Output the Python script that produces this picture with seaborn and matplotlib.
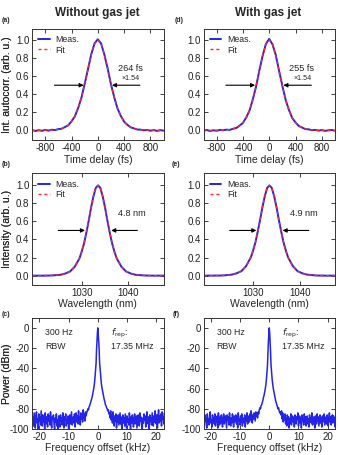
import numpy as np
import matplotlib
matplotlib.use('Agg')
import matplotlib.pyplot as plt
import seaborn as sns
from matplotlib.ticker import FormatStrFormatter, MultipleLocator

# ---- autocorrelation (a, d) ----
delay = np.arange(-1000, 1001, 50)
ac_fit_a = [0.000, 0.000, 0.000, 0.001, 0.001, 0.002, 0.004, 0.007, 0.012, 0.021,
            0.036, 0.060, 0.099, 0.158, 0.244, 0.363, 0.512, 0.680, 0.839, 0.957,
            1.000,
            0.957, 0.839, 0.680, 0.512, 0.363, 0.244, 0.158, 0.099, 0.060, 0.036,
            0.021, 0.012, 0.007, 0.004, 0.002, 0.001, 0.001, 0.000, 0.000, 0.000]
ac_meas_a = [0.004, -0.006, 0.003, -0.004, 0.006, -0.002, 0.008, 0.004, 0.015, 0.019,
             0.038, 0.057, 0.101, 0.155, 0.247, 0.360, 0.515, 0.677, 0.842, 0.962,
             1.008,
             0.960, 0.836, 0.683, 0.509, 0.366, 0.241, 0.160, 0.097, 0.062, 0.034,
             0.023, 0.010, 0.009, 0.002, 0.005, -0.003, 0.004, -0.005, 0.003, -0.002]
ac_fit_d = [0.000, 0.000, 0.000, 0.000, 0.001, 0.002, 0.003, 0.005, 0.010, 0.017,
            0.030, 0.051, 0.086, 0.141, 0.223, 0.340, 0.489, 0.661, 0.829, 0.954,
            1.000,
            0.954, 0.829, 0.661, 0.489, 0.340, 0.223, 0.141, 0.086, 0.051, 0.030,
            0.017, 0.010, 0.005, 0.003, 0.002, 0.001, 0.000, 0.000, 0.000, 0.000]
ac_meas_d = [-0.003, 0.005, -0.006, 0.002, -0.004, 0.006, 0.001, 0.009, 0.006, 0.019,
             0.027, 0.054, 0.083, 0.144, 0.220, 0.343, 0.486, 0.664, 0.826, 0.958,
             1.012,
             0.951, 0.832, 0.658, 0.492, 0.337, 0.226, 0.138, 0.088, 0.049, 0.032,
             0.015, 0.012, 0.003, 0.006, -0.002, 0.004, -0.005, 0.002, 0.005, -0.003]

# ---- optical spectrum (b, e) ----
wl = [1019.5, 1021.5, 1023.5, 1024.5, 1025.5, 1026.5, 1027.5, 1028.5, 1029.5, 1030.0,
      1030.5, 1031.0, 1031.5, 1032.0, 1032.5, 1033.0, 1033.5, 1034.0, 1034.5, 1035.0,
      1035.5, 1036.0, 1036.5, 1037.0, 1037.5, 1038.5, 1039.5, 1040.5, 1041.5, 1042.5,
      1043.5, 1045.5, 1047.5]
spec_fit_b = [0.000, 0.001, 0.003, 0.005, 0.011, 0.023, 0.048, 0.097, 0.191, 0.264,
              0.358, 0.474, 0.608, 0.749, 0.876, 0.967, 1.000, 0.967, 0.876, 0.749,
              0.608, 0.474, 0.358, 0.264, 0.191, 0.097, 0.048, 0.023, 0.011, 0.005,
              0.003, 0.001, 0.000]
spec_meas_b = [0.001, 0.000, 0.002, 0.006, 0.010, 0.024, 0.046, 0.099, 0.189, 0.266,
               0.356, 0.476, 0.606, 0.751, 0.874, 0.969, 0.998, 0.969, 0.874, 0.751,
               0.606, 0.476, 0.356, 0.266, 0.189, 0.099, 0.046, 0.024, 0.010, 0.006,
               0.002, 0.000, 0.001]
spec_fit_e = [0.000, 0.001, 0.003, 0.006, 0.013, 0.026, 0.052, 0.104, 0.202, 0.276,
              0.371, 0.487, 0.620, 0.757, 0.881, 0.968, 1.000, 0.968, 0.881, 0.757,
              0.620, 0.487, 0.371, 0.276, 0.202, 0.104, 0.052, 0.026, 0.013, 0.006,
              0.003, 0.001, 0.000]
spec_meas_e = [0.001, 0.001, 0.002, 0.007, 0.012, 0.027, 0.050, 0.106, 0.200, 0.278,
               0.369, 0.489, 0.618, 0.759, 0.879, 0.970, 0.997, 0.970, 0.879, 0.759,
               0.618, 0.489, 0.369, 0.278, 0.200, 0.106, 0.050, 0.027, 0.012, 0.007,
               0.002, 0.000, 0.001]

# ---- RF spectrum (c, f) ----
floor_left_khz = np.linspace(-23, -4, 96)
floor_right_khz = np.linspace(4, 23, 96)
peak_khz = [-3.8, -3.6, -3.4, -3.2, -3.0, -2.8, -2.6, -2.4, -2.2, -2.0,
            -1.8, -1.6, -1.4, -1.2, -1.0, -0.8, -0.6, -0.45, -0.3, -0.15,
            0.0,
            0.15, 0.3, 0.45, 0.6, 0.8, 1.0, 1.2, 1.4, 1.6, 1.8,
            2.0, 2.2, 2.4, 2.6, 2.8, 3.0, 3.2, 3.4, 3.6, 3.8]
c_left = [-86, -93, -81, -95, -88, -97, -84, -91, -99, -87, -83, -94, -90, -100, -85, -92, -88, -96, -82, -90,
          -97, -86, -93, -89, -100, -84, -95, -88, -91, -98, -85, -92, -87, -96, -83, -94, -99, -88, -90, -86,
          -95, -100, -89, -93, -85, -97, -91, -100, -87, -94, -98, -86, -92, -89, -96, -84, -93, -99, -88, -91,
          -85, -97, -90, -94, -87, -100, -92, -86, -95, -89, -83, -96, -91, -88, -94, -85, -98, -90, -84, -93,
          -87, -95, -82, -91, -88, -96, -84, -90, -86, -93, -81, -89, -85, -92, -83, -87]
c_peak = [-84, -82, -80, -81, -78, -77, -75, -73, -71, -69, -66, -63, -60, -56, -50, -42, -35, -22, -13, -5,
          0,
          -6, -14, -21, -34, -41, -49, -55, -59, -62, -65, -68, -71, -73, -76, -77, -79, -80, -82, -81, -85]
c_right = [-84, -89, -82, -91, -86, -94, -83, -90, -97, -87, -92, -85, -99, -88, -93, -86, -96, -90, -84, -95,
           -88, -100, -91, -86, -94, -89, -97, -85, -92, -99, -87, -93, -90, -96, -84, -91, -100, -88, -94, -86,
           -92, -98, -89, -85, -95, -91, -87, -99, -93, -86, -90, -97, -84, -92, -88, -96, -100, -89, -94, -85,
           -91, -87, -98, -93, -83, -90, -95, -88, -100, -86, -92, -89, -96, -84, -91, -97, -87, -93, -82, -90,
           -95, -86, -99, -88, -81, -94, -87, -92, -85, -97, -83, -90, -88, -95, -84, -91]
f_left = [-88, -94, -84, -91, -97, -86, -92, -89, -99, -85, -93, -90, -96, -87, -83, -94, -91, -98, -86, -92,
          -89, -95, -85, -97, -90, -93, -87, -99, -84, -91, -96, -88, -94, -86, -92, -98, -89, -85, -95, -90,
          -87, -93, -99, -86, -91, -88, -96, -84, -92, -97, -89, -94, -85, -90, -98, -87, -93, -91, -86, -95,
          -88, -99, -84, -92, -90, -96, -87, -93, -85, -97, -89, -91, -94, -86, -98, -88, -92, -84, -95, -90,
          -87, -93, -85, -91, -82, -89, -94, -86, -90, -84, -88, -92, -83, -87, -85, -89]
f_peak = [-83, -85, -81, -79, -80, -77, -76, -74, -72, -69, -67, -64, -61, -57, -52, -45, -37, -24, -14, -6,
          0,
          -5, -13, -23, -36, -44, -51, -56, -60, -63, -66, -69, -72, -74, -76, -78, -80, -79, -82, -84, -83]
f_right = [-86, -82, -90, -84, -93, -87, -91, -85, -95, -89, -97, -86, -92, -88, -99, -90, -94, -85, -96, -91,
           -87, -93, -89, -98, -86, -92, -95, -88, -90, -84, -97, -91, -87, -94, -89, -99, -86, -92, -90, -96,
           -85, -93, -88, -97, -91, -87, -95, -90, -98, -86, -92, -89, -94, -84, -96, -91, -88, -93, -99, -87,
           -90, -95, -85, -92, -88, -97, -91, -86, -94, -89, -98, -87, -93, -90, -85, -96, -92, -88, -95, -86,
           -91, -97, -89, -84, -93, -88, -96, -90, -86, -94, -87, -92, -89, -98, -85, -91]

pulse_fwhm = ['264 fs', '255 fs']
spec_fwhm = ['4.8 nm', '4.9 nm']

BLUE = '#2424e8'
RED = '#ff2a2a'

sns.set_style('ticks')
plt.rcParams['font.family'] = ['Liberation Sans', 'DejaVu Sans']
plt.rcParams['axes.unicode_minus'] = False

fig, axes = plt.subplots(3, 2, figsize=(3.38, 4.55), dpi=100)
fig.subplots_adjust(left=0.095, right=0.991, top=0.936, bottom=0.057,
                    wspace=0.304, hspace=0.297)


def style(ax):
    ax.tick_params(direction='in', top=True, right=True, length=3, width=0.6,
                   labelsize=7, pad=2, colors='#222222')
    for s in ax.spines.values():
        s.set_linewidth(0.7)
        s.set_color('#333333')


def arrows(ax, xl, xr, y):
    kw = dict(arrowstyle='-|>', color='k', lw=0.8, mutation_scale=6, shrinkA=0, shrinkB=0)
    ax.annotate('', xy=(xl[1], y), xytext=(xl[0], y), arrowprops=kw)
    ax.annotate('', xy=(xr[1], y), xytext=(xr[0], y), arrowprops=kw)


def legend(ax):
    ax.legend(loc='upper left', frameon=False, fontsize=6.3, handlelength=1.3,
              handletextpad=0.7, labelspacing=0.15, borderaxespad=0.3, borderpad=0.4)


col_data = [
    (ac_meas_a, ac_fit_a, spec_meas_b, spec_fit_b, c_left, c_peak, c_right),
    (ac_meas_d, ac_fit_d, spec_meas_e, spec_fit_e, f_left, f_peak, f_right),
]

for j, (acm, acf, spm, spf, nl, pk, nr) in enumerate(col_data):
    # autocorrelation
    ax = axes[0, j]
    sns.lineplot(x=delay, y=acm, ax=ax, color=BLUE, lw=1.4, label='Meas.')
    sns.lineplot(x=delay, y=acf, ax=ax, color=RED, lw=1.0, linestyle=(0, (2.2, 2.0)), label='Fit')
    ax.set_xlim(-1000, 1000)
    ax.set_ylim(-0.11, 1.12)
    ax.set_xticks([-800, -400, 0, 400, 800])
    ax.yaxis.set_major_locator(MultipleLocator(0.2))
    ax.yaxis.set_major_formatter(FormatStrFormatter('%.1f'))
    ax.set_xlabel('Time delay (fs)', fontsize=7.5, labelpad=1)
    ax.set_ylabel('Int. autocorr. (arb. u.)', fontsize=7.5)
    arrows(ax, (-660, -215), (640, 215), 0.5)
    ax.text(490, 0.68, pulse_fwhm[j], fontsize=6.6, ha='center', va='center')
    ax.text(500, 0.575, '\u00d71.54', fontsize=5.1, ha='center', va='center')
    legend(ax)

    # optical spectrum
    ax = axes[1, j]
    sns.lineplot(x=wl, y=spm, ax=ax, color=BLUE, lw=1.4, label='Meas.')
    sns.lineplot(x=wl, y=spf, ax=ax, color=RED, lw=1.0, linestyle=(0, (2.2, 2.0)), label='Fit')
    ax.set_xlim(1019.4, 1047.5)
    ax.set_ylim(-0.10, 1.13)
    ax.set_xticks([1030, 1040])
    ax.yaxis.set_major_locator(MultipleLocator(0.2))
    ax.yaxis.set_major_formatter(FormatStrFormatter('%.1f'))
    ax.set_xlabel('Wavelength (nm)', fontsize=7.5, labelpad=1)
    ax.set_ylabel('Intensity (arb. u.)', fontsize=7.5)
    arrows(ax, (1025.0, 1030.7), (1041.9, 1036.3), 0.5)
    ax.text(1040.8, 0.69, spec_fwhm[j], fontsize=6.6, ha='center', va='center')
    legend(ax)

    # RF spectrum
    ax = axes[2, j]
    freq = np.concatenate([floor_left_khz, peak_khz, floor_right_khz])
    power = np.concatenate([nl, pk, nr])
    sns.lineplot(x=freq, y=power, ax=ax, color=BLUE, lw=1.1)
    ax.set_xlim(-22.5, 22.5)
    ax.set_ylim(-100, 10)
    ax.set_xticks([-20, -10, 0, 10, 20])
    ax.set_yticks([0, -20, -40, -60, -80, -100])
    ax.set_xlabel('Frequency offset (kHz)', fontsize=7.5, labelpad=1)
    ax.set_ylabel('Power (dBm)', fontsize=7.5)
    ax.text(-18, -5, '300 Hz', fontsize=6.3, ha='left', va='center')
    ax.text(-18, -18, 'RBW', fontsize=6.3, ha='left', va='center')
    ax.text(4.5, -5, r'$f_{\mathrm{rep}}$:', fontsize=6.3, ha='left', va='center')
    ax.text(4.5, -18, '17.35 MHz', fontsize=6.3, ha='left', va='center')

W, H = 338, 455
for ax in axes.flat:
    style(ax)
    pos = ax.get_position()
    left_px = pos.x0 * W
    ax.yaxis.set_label_coords((12.5 - left_px) / (pos.width * W), 0.5)

fig.text(97 / W, 1 - 13 / H, 'Without gas jet', ha='center', va='center',
         fontsize=8.5, fontweight='bold')
fig.text(268 / W, 1 - 13 / H, 'With gas jet', ha='center', va='center',
         fontsize=8.5, fontweight='bold')
panel_pos = [('(a)', 6, 21), ('(d)', 179, 21), ('(b)', 6, 165), ('(e)', 176, 165),
             ('(c)', 6, 315), ('(f)', 176, 315)]
for lab, px, py in panel_pos:
    fig.text(px / W, 1 - py / H, lab, ha='center', va='center', fontsize=5, fontweight='bold')

fig.savefig('out.png', dpi=100)
